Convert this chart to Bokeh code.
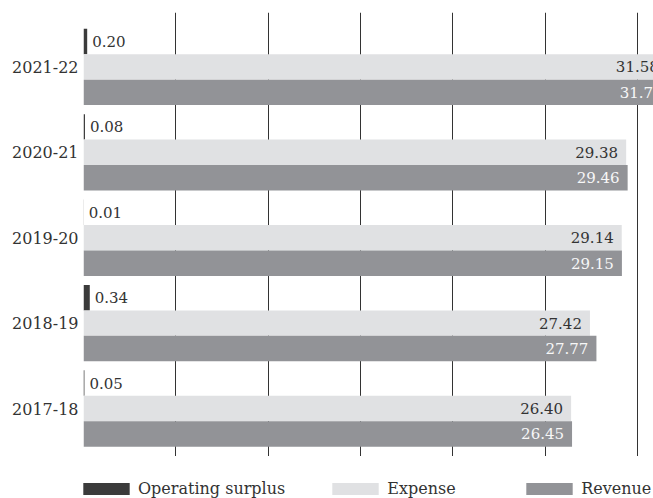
from bokeh.plotting import figure
from bokeh.models import (ColumnDataSource, Range1d, FixedTicker, Legend, LegendItem,
                          LabelSet)
from bokeh.layouts import column
from bokeh.core.properties import value
from bokeh.transform import dodge
from bokeh.embed import file_html
from bokeh.resources import INLINE

years = ["2017-18", "2018-19", "2019-20", "2020-21", "2021-22"]
revenue = [26.45, 27.77, 29.15, 29.46, 31.79]
expense = [26.40, 27.42, 29.14, 29.38, 31.58]
surplus = [0.05, 0.34, 0.01, 0.08, 0.20]
grid_ticks = [5, 10, 15, 20, 25, 30]
series_names = ["Operating surplus", "Expense", "Revenue"]

FONT = "DejaVu Serif"
C_SUR = "#3b3b3b"
C_EXP = "#e0e1e3"
C_REV = "#929397"
C_TXT = "#333333"

src = ColumnDataSource(dict(
    y=list(range(len(years))),
    revenue=revenue, expense=expense, surplus=surplus,
    rev_lbl=[f"{v:.2f}" for v in revenue],
    exp_lbl=[f"{v:.2f}" for v in expense],
    sur_lbl=[f"{v:.2f}" for v in surplus],
))

p = figure(width=653, height=456, output_backend="svg", toolbar_location=None,
           x_range=Range1d(0, 30.86), y_range=Range1d(-0.562, 4.637),
           min_border_left=83, min_border_right=0, min_border_top=12,
           min_border_bottom=0)
p.outline_line_color = None
p.background_fill_color = "white"
p.border_fill_color = "white"

bh = 0.298
p.hbar(y=dodge("y", bh), left=0, right="surplus", height=bh,
       color=C_SUR, line_color=None, source=src)
p.hbar(y="y", left=0, right="expense", height=bh,
       color=C_EXP, line_color=None, source=src)
p.hbar(y=dodge("y", -bh), left=0, right="revenue", height=bh,
       color=C_REV, line_color=None, source=src)

lbl_kw = dict(source=src, text_baseline="middle", text_font=value(FONT),
              text_font_size="15px")
p.add_layout(LabelSet(x="expense", y="y", text="exp_lbl", x_offset=-8,
                      text_align="right", text_color=C_TXT, **lbl_kw))
p.add_layout(LabelSet(x="revenue", y=dodge("y", -bh), text="rev_lbl", x_offset=-8,
                      text_align="right", text_color="#f7f7f7", **lbl_kw))
p.add_layout(LabelSet(x="surplus", y=dodge("y", bh), text="sur_lbl", x_offset=5,
                      text_align="left", text_color=C_TXT, **lbl_kw))

# axes
p.xaxis.visible = False
p.yaxis.ticker = FixedTicker(ticks=list(range(len(years))))
p.yaxis.major_label_overrides = {i: y for i, y in enumerate(years)}
p.yaxis.axis_line_color = None
p.yaxis.major_tick_line_color = None
p.yaxis.minor_tick_line_color = None
p.yaxis.major_tick_out = 0
p.yaxis.major_tick_in = 0
p.yaxis.major_label_standoff = 5
p.yaxis.major_label_text_font = FONT
p.yaxis.major_label_text_font_size = "16px"
p.yaxis.major_label_text_color = C_TXT

p.ygrid.visible = False
p.xgrid.ticker = FixedTicker(ticks=grid_ticks)
p.xgrid.grid_line_color = "#333333"
p.xgrid.grid_line_alpha = 1.0
p.xgrid.grid_line_width = 1

# legend strip below the chart (its bars lie outside this strip's ranges)
lf = figure(width=653, height=42, output_backend="svg", toolbar_location=None,
            x_range=Range1d(0, 1), y_range=Range1d(100, 101),
            min_border_left=83, min_border_right=0, min_border_top=0,
            min_border_bottom=0)
lf.axis.visible = False
lf.grid.visible = False
lf.outline_line_color = None
rs = [lf.hbar(y="y", left=0, right=f, height=bh, color=c, line_color=None, source=src)
      for f, c in (("surplus", C_SUR), ("expense", C_EXP), ("revenue", C_REV))]

legend = Legend(items=[LegendItem(label=n, renderers=[r]) for n, r in zip(series_names, rs)],
                orientation="horizontal", location=(-6, 0))
legend.margin = 0
legend.padding = 0
legend.spacing = 41
legend.glyph_width = 58
legend.glyph_height = 15
legend.label_standoff = 3
legend.label_width = 92
legend.label_text_font = FONT
legend.label_text_font_size = "16px"
legend.label_text_color = C_TXT
legend.border_line_color = None
legend.background_fill_alpha = 0
lf.add_layout(legend)

layout = column(p, lf, spacing=0)
open("out.html", "w").write(file_html(layout, INLINE))
